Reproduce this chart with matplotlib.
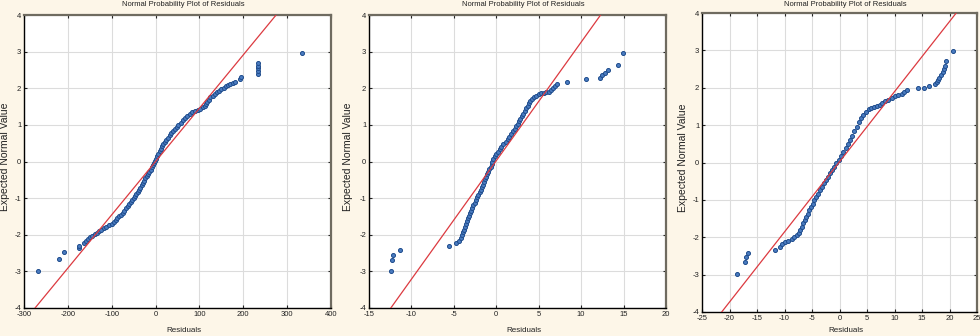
import matplotlib
matplotlib.use("Agg")
import matplotlib.pyplot as plt
import numpy as np

plt.rcParams['axes.unicode_minus'] = False
plt.rcParams['font.family'] = ['Liberation Sans Narrow', 'Liberation Sans', 'DejaVu Sans']

TITLE = "Normal Probability Plot of Residuals"
XLABEL = "Residuals"
YLABEL = "Expected Normal Value"

# ---------------- Panel 1 ----------------
res1 = [-269, -221, -208, -174, -174, -163, -158, -155, -150, -145, -139, -133, -129, -125,
        -118, -112, -106, -100, -95, -91, -87, -83, -79, -75, -71, -67, -63, -60, -57, -53,
        -50, -47, -44, -41, -38, -35, -32, -29, -26, -23, -20, -17, -14, -11, -8, -6, -4, -2,
        1, 3, 6, 9, 12, 15, 18, 21, 24, 28, 32, 36, 40, 44, 48, 52, 57, 62, 67, 72, 78, 84,
        90, 96, 102, 108, 112, 115, 118, 121, 125, 130, 135, 140, 145, 150, 155, 160, 165,
        170, 176, 180, 193, 194, 233, 233, 233, 233, 233, 335]
env1 = [-2.98, -2.66, -2.47, -2.36, -2.30, -2.22, -2.17, -2.12, -2.07, -2.03, -1.99, -1.95,
        -1.90, -1.86, -1.81, -1.78, -1.74, -1.70, -1.65, -1.60, -1.55, -1.50, -1.45, -1.40,
        -1.34, -1.28, -1.22, -1.16, -1.10, -1.05, -1.00, -0.95, -0.89, -0.83, -0.77, -0.71,
        -0.65, -0.58, -0.52, -0.46, -0.40, -0.34, -0.28, -0.22, -0.16, -0.10, -0.05, 0.01,
        0.08, 0.14, 0.21, 0.28, 0.35, 0.41, 0.47, 0.53, 0.59, 0.65, 0.71, 0.77, 0.83, 0.89,
        0.95, 1.00, 1.06, 1.12, 1.18, 1.24, 1.29, 1.34, 1.38, 1.41, 1.44, 1.48, 1.52, 1.57,
        1.63, 1.69, 1.75, 1.80, 1.85, 1.89, 1.93, 1.97, 2.01, 2.05, 2.08, 2.11, 2.13, 2.16,
        2.25, 2.30, 2.40, 2.47, 2.55, 2.62, 2.70, 2.97]
line1 = (0.0, 68.7)          # (mean, sd) of the reference line
xticks1 = [-300, -200, -100, 0, 100, 200, 300, 400]

# ---------------- Panel 2 ----------------
res2 = [-12.45, -12.34, -12.2, -11.32, -5.6, -4.74, -4.4, -4.2, -4.0, -3.9, -3.78, -3.65,
        -3.55, -3.45, -3.35, -3.25, -3.12, -2.98, -2.85, -2.70, -2.55, -2.40, -2.25, -2.10,
        -1.95, -1.82, -1.70, -1.57, -1.44, -1.31, -1.18, -1.05, -0.92, -0.80, -0.68, -0.55,
        -0.45, -0.35, -0.2, -0.02, 0.2, 0.4, 0.6, 0.85, 1.1, 1.35, 1.55, 1.75, 1.95, 2.15,
        2.35, 2.55, 2.7, 2.85, 3.0, 3.2, 3.4, 3.55, 3.7, 3.85, 4.0, 4.2, 4.4, 4.7, 5.0, 5.3,
        5.6, 5.9, 6.2, 6.45, 6.7, 6.9, 7.1, 8.37, 10.6, 12.17, 12.4, 12.8, 13.19, 14.33, 14.95]
env2 = [-2.98, -2.70, -2.55, -2.41, -2.30, -2.23, -2.16, -2.09, -2.01, -1.93, -1.86, -1.78,
        -1.70, -1.62, -1.55, -1.48, -1.41, -1.34, -1.27, -1.20, -1.12, -1.05, -0.98, -0.91,
        -0.84, -0.77, -0.70, -0.63, -0.56, -0.49, -0.42, -0.35, -0.28, -0.21, -0.14, -0.07,
        0.00, 0.07, 0.14, 0.20, 0.26, 0.33, 0.40, 0.47, 0.54, 0.61, 0.68, 0.75, 0.82, 0.89,
        0.96, 1.03, 1.10, 1.17, 1.24, 1.31, 1.38, 1.45, 1.52, 1.59, 1.65, 1.71, 1.76, 1.80,
        1.83, 1.86, 1.87, 1.89, 1.91, 1.96, 2.02, 2.07, 2.11, 2.18, 2.25, 2.29, 2.36, 2.41,
        2.50, 2.64, 2.97]
line2 = (-0.07, 3.09)
xticks2 = [-15, -10, -5, 0, 5, 10, 15, 20]

# ---------------- Panel 3 ----------------
res3 = [-18.56, -17.1, -17.04, -16.6, -11.75, -10.84, -10.5, -9.9, -9.3, -8.7, -8.2, -7.7,
        -7.4, -7.1, -6.8, -6.55, -6.3, -6.05, -5.8, -5.5, -5.2, -4.9, -4.55, -4.2, -3.85,
        -3.5, -3.15, -2.8, -2.45, -2.1, -1.75, -1.4, -1.0, -0.55, -0.1, 0.3, 0.7, 1.1, 1.5,
        1.9, 2.3, 2.7, 3.1, 3.5, 3.9, 4.35, 4.8, 5.3, 5.8, 6.3, 6.8, 7.3, 7.8, 8.3, 8.9, 9.5,
        10.1, 10.7, 11.3, 11.8, 12.2, 14.25, 15.34, 16.31, 17.4, 17.7, 17.9, 18.15, 18.4,
        18.74, 18.95, 19.1, 19.35, 20.57]
env3 = [-2.99, -2.67, -2.53, -2.42, -2.35, -2.26, -2.19, -2.13, -2.09, -2.05, -2.00, -1.95,
        -1.88, -1.81, -1.72, -1.63, -1.54, -1.45, -1.37, -1.28, -1.19, -1.10, -1.01, -0.92,
        -0.83, -0.74, -0.65, -0.56, -0.47, -0.38, -0.29, -0.20, -0.11, -0.02, 0.07, 0.17,
        0.28, 0.39, 0.50, 0.61, 0.72, 0.84, 0.96, 1.08, 1.19, 1.28, 1.36, 1.42, 1.46, 1.48,
        1.51, 1.55, 1.60, 1.64, 1.68, 1.73, 1.77, 1.80, 1.84, 1.88, 1.93, 1.99, 1.99, 2.04,
        2.11, 2.16, 2.21, 2.27, 2.33, 2.42, 2.50, 2.57, 2.72, 2.98]
line3 = (-0.1, 5.33)
xticks3 = [-25, -20, -15, -10, -5, 0, 5, 10, 15, 20, 25]

yticks = [-4, -3, -2, -1, 0, 1, 2, 3, 4]

W, H = 980, 336
fig = plt.figure(figsize=(W / 100, H / 100), dpi=100)
fig.patch.set_facecolor('#fdf6e8')

# (left, top, right, bottom) in pixels
boxes = [(24, 15, 331, 308), (369, 15, 666, 308), (702, 13, 977, 312)]
ylab_x = [5, 348, 683]
panels = [(res1, env1, line1, xticks1), (res2, env2, line2, xticks2), (res3, env3, line3, xticks3)]

for (l, t, r, b), yx, (res, env, ln, xt) in zip(boxes, ylab_x, panels):
    ax = fig.add_axes([l / W, 1 - b / H, (r - l) / W, (b - t) / H])
    ax.set_facecolor('white')
    ax.set_xlim(xt[0], xt[-1])
    ax.set_ylim(-4, 4)
    ax.set_xticks(xt)
    ax.set_yticks(yticks)
    ax.grid(True, color='#dcdcdc', lw=0.8)
    ax.set_axisbelow(True)
    ax.tick_params(direction='in', length=2, width=0.8, labelsize=5.5, pad=2,
                   top=True, right=True, colors='#222222')
    for s in ('left', 'bottom'):
        ax.spines[s].set_color('black')
        ax.spines[s].set_linewidth(1.0)
    for s in ('top', 'right'):
        ax.spines[s].set_color('#6f6b60')
        ax.spines[s].set_linewidth(1.6)

    ax.plot(res, env, 'o', ms=2.9, mfc='#4a7bc0', mec='#1f4c8c', mew=0.7, zorder=3)
    mu, sd = ln
    yy = np.array([-4.2, 4.2])
    ax.plot(mu + yy * sd, yy, color='#dc3a40', lw=0.9, zorder=4, clip_on=True)

    cx = (l + r) / 2 + 6
    fig.text(cx / W, 1 - 5 / H, TITLE, ha='center', va='center', fontsize=5.5, color='#222222')
    fig.text(cx / W, 1 - 331 / H, XLABEL, ha='center', va='center', fontsize=5.8, color='#222222')
    fig.text(yx / W, 1 - ((t + b) / 2 - 5) / H, YLABEL, ha='center', va='center',
             rotation=90, fontsize=7.5, color='#222222',
             family=['Liberation Sans', 'DejaVu Sans'])

fig.savefig('out.png', dpi=100, facecolor=fig.get_facecolor())
